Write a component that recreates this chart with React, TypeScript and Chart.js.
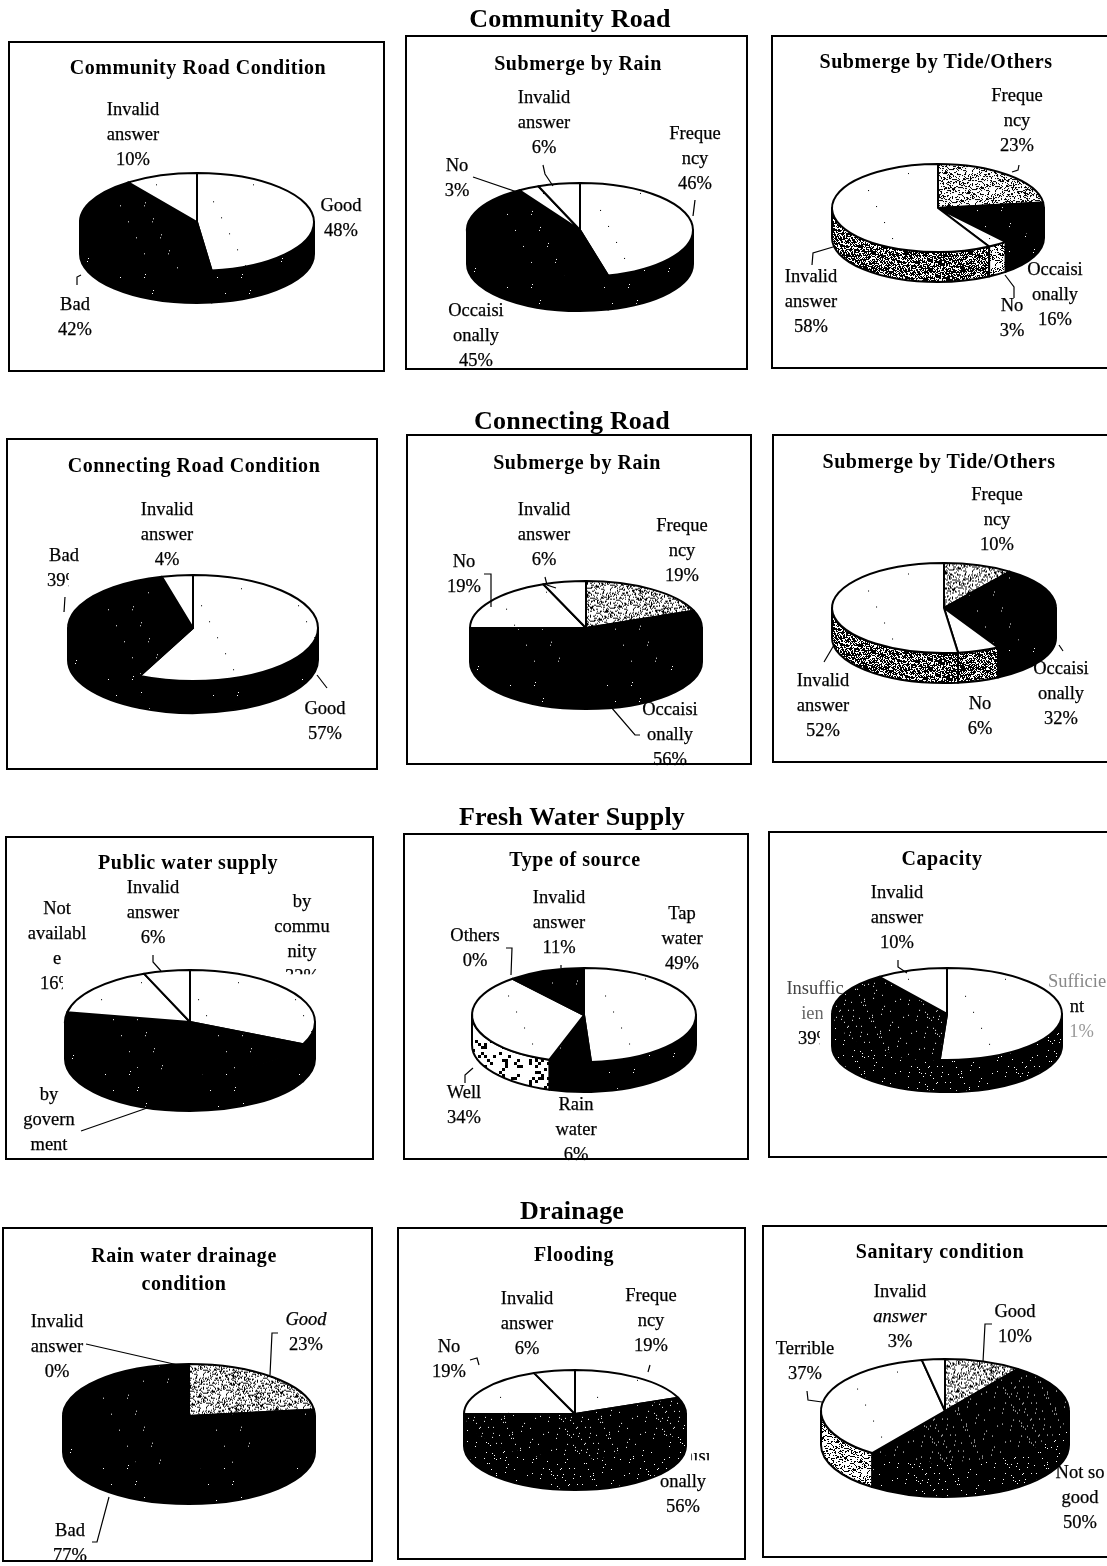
import React, { useEffect, useRef } from "react";
import { Chart, registerables } from "chart.js";

Chart.register(...registerables);

const FONT = '"Liberation Serif", "Times New Roman", serif';

// ---- data ----
const communityConditionCats = ["Good", "Bad", "Invalid|answer"];
const communityConditionVals = [48, 42, 10];
const communityRainCats = ["Freque|ncy", "Occaisi|onally", "No", "Invalid|answer"];
const communityRainVals = [46, 45, 3, 6];
const communityTideCats = ["Freque|ncy", "Occaisi|onally", "No", "Invalid|answer"];
const communityTideVals = [23, 16, 3, 58];
const connectingConditionCats = ["Good", "Bad", "Invalid|answer"];
const connectingConditionVals = [57, 39, 4];
const connectingRainCats = ["Freque|ncy", "Occaisi|onally", "No", "Invalid|answer"];
const connectingRainVals = [19, 56, 19, 6];
const connectingTideCats = ["Freque|ncy", "Occaisi|onally", "No", "Invalid|answer"];
const connectingTideVals = [10, 32, 6, 52];
const publicWaterCats = ["by|commu|nity", "by|govern|ment", "Not|availabl|e", "Invalid|answer"];
const publicWaterVals = [32, 46, 16, 6];
const sourceCats = ["Tap|water", "Rain|water", "Well", "Others", "Invalid|answer"];
const sourceVals = [49, 6, 34, 0, 11];
const capacityCats = ["Sufficie|nt", "Insuffic|ient", "Invalid|answer"];
const capacityVals = [51, 39, 10];
const drainageCats = ["Good", "Bad", "Invalid|answer"];
const drainageVals = [23, 77, 0];
const floodingCats = ["Freque|ncy", "Occaisi|onally", "No", "Invalid|answer"];
const floodingVals = [19, 56, 19, 6];
const sanitaryCats = ["Good", "Not so|good", "Terrible", "Invalid|answer"];
const sanitaryVals = [10, 50, 37, 3];

const sectionTitles = ["Community Road", "Connecting Road", "Fresh Water Supply", "Drainage"];

// ---- layout ----
const SECTIONS = [
  { x: 570, y: 19 },
  { x: 572, y: 421 },
  { x: 572, y: 817 },
  { x: 572, y: 1211 },
];

type Lbl = {
  i: number; x: number; y: number; noPct?: boolean;
  clip?: Record<number, string>; fade?: Record<number, string>; ital?: number[];
};
type Pie = {
  title: string[]; tx: number; ty: number;
  frame: number[];
  cx: number; cy: number; rx: number; ry: number; depth: number;
  cats: string[]; vals: number[]; top: string[]; wall: string[];
  labels: Lbl[]; leaders: string[];
};

const PIES: Pie[] = [
  {
    title: ["Community Road Condition"], tx: 198, ty: 67, frame: [8, 41, 385, 372],
    cx: 197, cy: 222, rx: 117, ry: 49, depth: 32,
    cats: communityConditionCats, vals: communityConditionVals,
    top: ["w", "k", "w"], wall: ["k", "k", "k"],
    labels: [{ i: 0, x: 341, y: 205 }, { i: 1, x: 75, y: 304 }, { i: 2, x: 133, y: 109 }],
    leaders: ["77,285 77,277 81,275"],
  },
  {
    title: ["Submerge by Rain"], tx: 578, ty: 63, frame: [405, 35, 748, 370],
    cx: 580, cy: 230, rx: 113, ry: 47, depth: 34,
    cats: communityRainCats, vals: communityRainVals,
    top: ["w", "k", "w", "w"], wall: ["k", "k", "k", "k"],
    labels: [{ i: 0, x: 695, y: 133 }, { i: 1, x: 476, y: 310 }, { i: 2, x: 457, y: 165 }, { i: 3, x: 544, y: 97 }],
    leaders: ["473,177 517,192", "543,165 545,174 553,186", "695,200 693,216"],
  },
  {
    title: ["Submerge by Tide/Others"], tx: 936, ty: 61, frame: [771, 35, 1112, 369],
    cx: 938, cy: 208, rx: 106, ry: 44, depth: 30,
    cats: communityTideCats, vals: communityTideVals,
    top: ["s", "k", "w", "w"], wall: ["s", "k", "s", "d"],
    labels: [{ i: 0, x: 1017, y: 95 }, { i: 1, x: 1055, y: 269 }, { i: 2, x: 1012, y: 305 }, { i: 3, x: 811, y: 276 }],
    leaders: ["1019,165 1018,170 1012,172", "812,265 813,253 833,247", "1014,298 1014,287 1005,275"],
  },
  {
    title: ["Connecting Road Condition"], tx: 194, ty: 465, frame: [6, 438, 378, 770],
    cx: 193, cy: 628, rx: 125, ry: 53, depth: 32,
    cats: connectingConditionCats, vals: connectingConditionVals,
    top: ["w", "k", "w"], wall: ["k", "k", "k"],
    labels: [{ i: 0, x: 325, y: 708 }, { i: 1, x: 64, y: 555, clip: { 1: "0 12px 0 0" } }, { i: 2, x: 167, y: 509 }],
    leaders: ["65,597 64,612", "327,688 317,675"],
  },
  {
    title: ["Submerge by Rain"], tx: 577, ty: 462, frame: [406, 434, 752, 765],
    cx: 586, cy: 628, rx: 116, ry: 47, depth: 34,
    cats: connectingRainCats, vals: connectingRainVals,
    top: ["s", "k", "w", "w"], wall: ["k", "k", "k", "k"],
    labels: [{ i: 0, x: 682, y: 525 }, { i: 1, x: 670, y: 709 }, { i: 2, x: 464, y: 561 }, { i: 3, x: 544, y: 509 }],
    leaders: ["484,574 491,574 491,607", "545,577 547,585 556,588", "611,707 635,735 640,735"],
  },
  {
    title: ["Submerge by Tide/Others"], tx: 939, ty: 461, frame: [772, 434, 1112, 763],
    cx: 944, cy: 608, rx: 112, ry: 45, depth: 30,
    cats: connectingTideCats, vals: connectingTideVals,
    top: ["s", "k", "w", "w"], wall: ["s", "k", "d", "d"],
    labels: [{ i: 0, x: 997, y: 494 }, { i: 1, x: 1061, y: 668 }, { i: 2, x: 980, y: 703 }, { i: 3, x: 823, y: 680 }],
    leaders: ["834,645 824,662", "1059,645 1063,651"],
  },
  {
    title: ["Public water supply"], tx: 188, ty: 862, frame: [5, 836, 374, 1160],
    cx: 190, cy: 1022, rx: 125, ry: 52, depth: 37,
    cats: publicWaterCats, vals: publicWaterVals,
    top: ["w", "k", "w", "w"], wall: ["k", "k", "k", "k"],
    labels: [
      { i: 0, x: 302, y: 901, clip: { 3: "0 0 11px 0" } },
      { i: 1, x: 49, y: 1094, noPct: true },
      { i: 2, x: 57, y: 908, clip: { 3: "0 11px 0 0" } },
      { i: 3, x: 153, y: 887 },
    ],
    leaders: ["153,955 153,962 161,971", "81,1131 150,1107"],
  },
  {
    title: ["Type of source"], tx: 575, ty: 859, frame: [403, 833, 749, 1160],
    cx: 584, cy: 1015, rx: 112, ry: 47, depth: 30,
    cats: sourceCats, vals: sourceVals,
    top: ["w", "k", "w", "w", "k"], wall: ["k", "k", "c", "c", "k"],
    labels: [
      { i: 0, x: 682, y: 913 }, { i: 1, x: 576, y: 1104 }, { i: 2, x: 464, y: 1092 },
      { i: 3, x: 475, y: 935 }, { i: 4, x: 559, y: 897 },
    ],
    leaders: ["506,948 512,948 511,975", "561,965 561,968", "465,1083 465,1075 473,1068"],
  },
  {
    title: ["Capacity"], tx: 942, ty: 858, frame: [768, 831, 1112, 1158],
    cx: 947, cy: 1014, rx: 115, ry: 46, depth: 32,
    cats: capacityCats, vals: capacityVals,
    top: ["w", "n", "w"], wall: ["n", "n", "n"],
    labels: [
      { i: 0, x: 1077, y: 981, fade: { 0: "#888", 2: "#999" }, clip: { 2: "0 0 0 9px" } },
      { i: 1, x: 815, y: 988, fade: { 0: "#444", 1: "#666" }, clip: { 1: "0 6px 0 0", 2: "0 12px 0 0" } },
      { i: 2, x: 897, y: 892 },
    ],
    leaders: ["898,960 898,967 907,973"],
  },
  {
    title: ["Rain water drainage", "condition"], tx: 184, ty: 1255, frame: [2, 1227, 373, 1562],
    cx: 189, cy: 1416, rx: 126, ry: 52, depth: 36,
    cats: drainageCats, vals: drainageVals,
    top: ["s", "k", "w"], wall: ["k", "k", "k"],
    labels: [{ i: 0, x: 306, y: 1319, ital: [0] }, { i: 1, x: 70, y: 1530 }, { i: 2, x: 57, y: 1321 }],
    leaders: ["86,1344 178,1365", "278,1333 272,1333 270,1375", "109,1497 97,1542 92,1542"],
  },
  {
    title: ["Flooding"], tx: 574, ty: 1254, frame: [397, 1227, 746, 1560],
    cx: 575, cy: 1414, rx: 111, ry: 44, depth: 32,
    cats: floodingCats, vals: floodingVals,
    top: ["w", "n", "w", "w"], wall: ["n", "n", "n", "n"],
    labels: [
      { i: 0, x: 651, y: 1295 }, { i: 1, x: 683, y: 1456, clip: { 0: "5px 0 5px 36px" } },
      { i: 2, x: 449, y: 1346 }, { i: 3, x: 527, y: 1298 },
    ],
    leaders: ["470,1360 477,1358 479,1365", "648,1372 650,1365"],
  },
  {
    title: ["Sanitary condition"], tx: 940, ty: 1251, frame: [762, 1225, 1112, 1558],
    cx: 945, cy: 1411, rx: 124, ry: 52, depth: 34,
    cats: sanitaryCats, vals: sanitaryVals,
    top: ["s", "n", "w", "w"], wall: ["s", "n", "s", "n"],
    labels: [{ i: 0, x: 1015, y: 1311 }, { i: 1, x: 1080, y: 1472 }, { i: 2, x: 805, y: 1348 }, { i: 3, x: 900, y: 1291, ital: [1] }],
    leaders: ["992,1324 985,1324 983,1362", "807,1391 808,1400 822,1402"],
  },
];

// scanned-print textures, built from a fixed number sequence
function texture(ctx: CanvasRenderingContext2D, key: string, yScale: number): CanvasPattern {
  const size = 97;
  const off = document.createElement("canvas");
  off.width = size;
  off.height = size;
  const g = off.getContext("2d") as CanvasRenderingContext2D;
  const dark = key === "k" || key === "n";
  g.fillStyle = dark ? "#000" : "#fff";
  g.fillRect(0, 0, size, size);
  let seed = 12345 + key.charCodeAt(0) * 7;
  const next = () => {
    seed = (seed * 1103515 + 12345) % 2147483;
    return seed / 2147483;
  };
  const cfg: Record<string, [number, number]> = {
    k: [0.006, 1], n: [0.02, 1], w: [0.0012, 1], s: [0.26, 1], d: [0.6, 1], c: [0.2, 3],
  };
  const [density, dot] = cfg[key];
  g.fillStyle = dark ? "#fff" : "#000";
  for (let y = 0; y < size; y += dot) {
    for (let x = 0; x < size; x += dot) {
      if (next() < density) g.fillRect(x, y, dot + (key === "s" && next() < 0.2 ? 1 : 0), dot);
    }
  }
  const p = ctx.createPattern(off, "repeat") as CanvasPattern;
  if (yScale !== 1) p.setTransform(new DOMMatrix().scale(1, yScale));
  return p;
}

function PieChart({ pie }: { pie: Pie }) {
  const ref = useRef<HTMLCanvasElement | null>(null);
  const pad = 6;
  const W = pie.rx * 2 + pad * 2;
  const H = pie.ry * 2 + pie.depth + pad * 2;
  useEffect(() => {
    const canvas = ref.current as HTMLCanvasElement;
    const ctx = canvas.getContext("2d") as CanvasRenderingContext2D;
    const k = pie.ry / pie.rx;
    const tops = pie.top.map((t) => texture(ctx, t, 1 / k));
    const walls = pie.wall.map((t) => texture(ctx, t, 1));
    const chart = new Chart(canvas, {
      type: "pie",
      data: {
        labels: pie.cats.map((c) => c.replace("|", "")),
        datasets: [{ data: pie.vals, backgroundColor: tops, borderWidth: 0 }],
      },
      options: {
        responsive: false,
        maintainAspectRatio: false,
        animation: false,
        radius: pie.rx,
        layout: { padding: 0 },
        events: [],
        plugins: { legend: { display: false }, tooltip: { enabled: false } },
      },
      plugins: [
        {
          id: "tilted3d",
          beforeDatasetsDraw(c: any) {
            const arcs = c.getDatasetMeta(0).data;
            const g = c.ctx as CanvasRenderingContext2D;
            const ox = pad + pie.rx;
            const oy = pad + pie.ry;
            g.lineWidth = 2;
            g.lineJoin = "round";
            g.strokeStyle = "#000";
            // outer wall of each slice
            arcs.forEach((a: any, i: number) => {
              const s = Math.max(a.startAngle, 0);
              const e = Math.min(a.endAngle, Math.PI);
              if (e <= s) return;
              g.beginPath();
              g.ellipse(ox, oy, pie.rx, pie.ry, 0, s, e);
              g.ellipse(ox, oy + pie.depth, pie.rx, pie.ry, 0, e, s, true);
              g.closePath();
              g.fillStyle = walls[i];
              g.fill();
              g.stroke();
            });
            // top face of each slice, through the library's arc elements
            arcs.forEach((a: any) => {
              if (a.endAngle - a.startAngle <= 0) return;
              g.save();
              g.translate(ox, oy);
              g.scale(1, k);
              g.translate(-a.x, -a.y);
              a.draw(g);
              g.beginPath();
              g.moveTo(a.x, a.y);
              g.arc(a.x, a.y, a.outerRadius, a.startAngle, a.endAngle);
              g.closePath();
              g.restore();
              g.stroke();
            });
            return false;
          },
        },
      ],
    } as any);
    return () => chart.destroy();
  }, []);
  return (
    <canvas
      ref={ref}
      width={W}
      height={H}
      style={{ position: "absolute", left: pie.cx - pie.rx - pad, top: pie.cy - pie.ry - pad, width: W, height: H }}
    />
  );
}

const line = (text: string, x: number, y: number, size: number, bold: boolean, extra: any = {}) => (
  <div
    key={`${text}-${x}-${y}`}
    style={{
      position: "absolute",
      left: x,
      top: y,
      transform: "translate(-50%,-50%)",
      whiteSpace: "nowrap",
      fontFamily: FONT,
      fontSize: size,
      fontWeight: bold ? 700 : 400,
      color: "#000",
      lineHeight: 1,
      ...extra,
    }}
  >
    {text}
  </div>
);

export default function App() {
  return (
    <div style={{ position: "absolute", left: 0, top: 0, width: 1107, height: 1566, overflow: "hidden", background: "#fff" }}>
      {PIES.map((p, n) => (
        <div
          key={`f${n}`}
          style={{
            position: "absolute",
            left: p.frame[0],
            top: p.frame[1],
            width: p.frame[2] - p.frame[0],
            height: p.frame[3] - p.frame[1],
            border: "2px solid #000",
            boxSizing: "border-box",
          }}
        />
      ))}
      {PIES.map((p, n) => (
        <PieChart key={`p${n}`} pie={p} />
      ))}
      <svg width={1107} height={1566} style={{ position: "absolute", left: 0, top: 0 }}>
        {PIES.flatMap((p, n) =>
          p.leaders.map((pts, j) => <polyline key={`${n}-${j}`} points={pts} fill="none" stroke="#000" strokeWidth={1.2} />)
        )}
      </svg>
      {sectionTitles.map((t, i) => line(t, SECTIONS[i].x, SECTIONS[i].y, 26, true, { letterSpacing: 0.2 }))}
      {PIES.flatMap((p) => [
        ...p.title.map((t, i) => line(t, p.tx, p.ty + i * 28, 20, true, { letterSpacing: 0.55 })),
        ...p.labels.flatMap((l) => {
          const parts = p.cats[l.i].split("|");
          if (!l.noPct) parts.push(`${p.vals[l.i]}%`);
          return parts.map((t, j) =>
            line(t, l.x, l.y + j * 25, 18.5, false, {
              WebkitTextStroke: "0.25px #000",
              ...(l.clip && l.clip[j] ? { clipPath: `inset(${l.clip[j]})` } : {}),
              ...(l.fade && l.fade[j] ? { color: l.fade[j], WebkitTextStroke: "0" } : {}),
              ...(l.ital && l.ital.includes(j) ? { fontStyle: "italic" } : {}),
            })
          );
        }),
      ])}
    </div>
  );
}
